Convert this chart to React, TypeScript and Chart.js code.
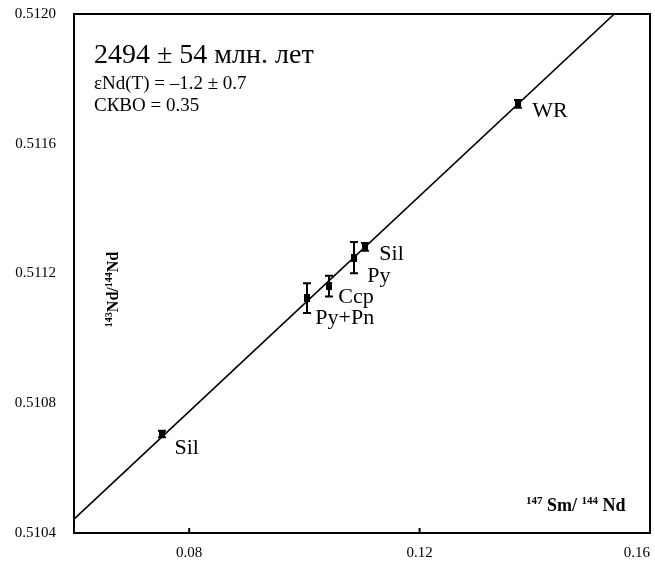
import React, { useEffect, useRef } from "react";
import { Chart, registerables } from "chart.js";

Chart.register(...registerables);

// ---- data ----
const sampleNames = ["Sil", "Py+Pn", "Ccp", "Py", "Sil", "WR"];
const smNd = [0.07535, 0.1005, 0.10432, 0.10866, 0.11057, 0.13712];
const ndNd = [0.510705, 0.511124, 0.511161, 0.511249, 0.511282, 0.511723];
const ndErr = [0.00001, 0.000046, 0.000032, 0.000048, 0.000012, 0.000012];
const isochronX = [0.06, 0.1538];
const isochronY = [0.510443, 0.512];
const xTicks = [0.06, 0.08, 0.12, 0.16];
const yTicks = [0.5104, 0.5108, 0.5112, 0.5116, 0.512];
const ageText = "2494 ± 54 млн. лет";
const epsText = "εNd(T) = –1.2 ± 0.7";
const mswdText = "СКВО = 0.35";

// label offsets in pixels (style only)
const labelOffsets = [
  [12, 20],
  [8, 26],
  [9, 17],
  [13, 24],
  [14, 13],
  [14, 13],
];

const SERIF = "'Liberation Serif', 'Times New Roman', serif";

function drawRich(ctx: CanvasRenderingContext2D, parts: [string, number, number][], x: number, y: number) {
  let cx = x;
  for (const [t, size, dy] of parts) {
    ctx.font = `bold ${size}px ${SERIF}`;
    ctx.fillText(t, cx, y + dy);
    cx += ctx.measureText(t).width;
  }
}
function richWidth(ctx: CanvasRenderingContext2D, parts: [string, number, number][]) {
  let w = 0;
  for (const [t, size] of parts) {
    ctx.font = `bold ${size}px ${SERIF}`;
    w += ctx.measureText(t).width;
  }
  return w;
}

const decorPlugin = {
  id: "decor",
  beforeDatasetsDraw(chart: any) {
    // error bars drawn beneath markers
    const ctx: CanvasRenderingContext2D = chart.ctx;
    const xs = chart.scales.x;
    const ys = chart.scales.y;
    ctx.save();
    ctx.strokeStyle = "#000";
    ctx.lineWidth = 2;
    for (let i = 0; i < smNd.length; i++) {
      const px = Math.round(xs.getPixelForValue(smNd[i]));
      const yt = ys.getPixelForValue(ndNd[i] + ndErr[i]);
      const yb = ys.getPixelForValue(ndNd[i] - ndErr[i]);
      ctx.beginPath();
      ctx.moveTo(px, yt);
      ctx.lineTo(px, yb);
      ctx.moveTo(px - 4, yt);
      ctx.lineTo(px + 4, yt);
      ctx.moveTo(px - 4, yb);
      ctx.lineTo(px + 4, yb);
      ctx.stroke();
    }
    ctx.restore();
  },
  afterDraw(chart: any) {
    const ctx: CanvasRenderingContext2D = chart.ctx;
    const area = chart.chartArea;
    const xs = chart.scales.x;
    const ys = chart.scales.y;
    ctx.save();
    ctx.strokeStyle = "#000";
    ctx.fillStyle = "#000";
    // frame
    ctx.lineWidth = 2;
    ctx.strokeRect(area.left, area.top, area.right - area.left, area.bottom - area.top);
    // inward x ticks
    ctx.beginPath();
    for (const v of xTicks) {
      const px = xs.getPixelForValue(v);
      if (px <= area.left + 2 || px >= area.right - 2) continue;
      ctx.moveTo(px, area.bottom);
      ctx.lineTo(px, area.bottom - 5);
    }
    ctx.stroke();

    // annotation block
    ctx.textAlign = "left";
    ctx.textBaseline = "alphabetic";
    ctx.font = `28px ${SERIF}`;
    ctx.fillText(ageText, area.left + 20, area.top + 49);
    ctx.font = `19px ${SERIF}`;
    ctx.fillText(epsText, area.left + 20, area.top + 75);
    ctx.fillText(mswdText, area.left + 20, area.top + 97);

    // point labels
    ctx.font = `22px ${SERIF}`;
    for (let i = 0; i < sampleNames.length; i++) {
      const px = xs.getPixelForValue(smNd[i]);
      const py = ys.getPixelForValue(ndNd[i]);
      ctx.fillText(sampleNames[i], px + labelOffsets[i][0], py + labelOffsets[i][1]);
    }

    // x axis title inside plot
    const xParts: [string, number, number][] = [
      ["147", 11, -7],
      [" Sm/ ", 18, 0],
      ["144", 11, -7],
      [" Nd", 18, 0],
    ];
    drawRich(ctx, xParts, area.right - 124, area.bottom - 22);

    // y axis title (rotated)
    const yParts: [string, number, number][] = [
      ["143", 10, -6],
      ["Nd/", 16, 0],
      ["144", 10, -6],
      ["Nd", 16, 0],
    ];
    const w = richWidth(ctx, yParts);
    ctx.translate(area.left + 38, (area.top + area.bottom) / 2 + 16);
    ctx.rotate(-Math.PI / 2);
    drawRich(ctx, yParts, -w / 2, 6);
    ctx.restore();
  },
};

export default function App() {
  const ref = useRef<HTMLCanvasElement | null>(null);
  useEffect(() => {
    if (!ref.current) return;
    const marker = document.createElement("canvas");
    marker.width = 6;
    marker.height = 8;
    const mctx = marker.getContext("2d")!;
    mctx.fillStyle = "#000";
    mctx.fillRect(0, 0, 6, 8);

    const chart = new Chart(ref.current, {
      type: "scatter",
      data: {
        datasets: [
          {
            label: "samples",
            data: smNd.map((x, i) => ({ x, y: ndNd[i] })),
            pointStyle: marker,
            pointRadius: 4,
            showLine: false,
            order: 0,
          },
          {
            label: "isochron",
            data: isochronX.map((x, i) => ({ x, y: isochronY[i] })),
            showLine: true,
            borderColor: "#000",
            borderWidth: 1.6,
            pointRadius: 0,
            fill: false,
            order: 1,
          },
        ],
      },
      options: {
        animation: false,
        responsive: false,
        layout: { padding: { top: 14, right: 4, left: 0, bottom: 0 } },
        plugins: { legend: { display: false }, tooltip: { enabled: false } },
        scales: {
          x: {
            type: "linear",
            min: 0.06,
            max: 0.16,
            afterBuildTicks: (s: any) => {
              s.ticks = xTicks.map((v) => ({ value: v }));
            },
            afterFit: (s: any) => {
              s.height = 35;
              s.paddingLeft = 0;
              s.paddingRight = 0;
            },
            grid: { display: false, drawTicks: false },
            border: { display: false },
            ticks: {
              align: "inner",
              padding: 11,
              autoSkip: false,
              maxRotation: 0,
              color: "#000",
              font: { family: SERIF, size: 15 },
              callback: (v: any, i: number) => (i === 0 ? "" : Number(v).toFixed(2)),
            },
          },
          y: {
            type: "linear",
            min: 0.5104,
            max: 0.512,
            afterBuildTicks: (s: any) => {
              s.ticks = yTicks.map((v) => ({ value: v }));
            },
            afterFit: (s: any) => {
              s.width = 74;
              s.paddingTop = 0;
              s.paddingBottom = 0;
            },
            grid: { display: false, drawTicks: false },
            border: { display: false },
            ticks: {
              padding: 18,
              autoSkip: false,
              color: "#000",
              font: { family: SERIF, size: 15 },
              callback: (v: any) => Number(v).toFixed(4),
            },
          },
        },
      } as any,
      plugins: [decorPlugin],
    });
    return () => chart.destroy();
  }, []);
  return (
    <div style={{ position: "absolute", left: 0, top: 0, width: 655, height: 568, background: "#fff" }}>
      <canvas ref={ref} width={655} height={568} style={{ width: 655, height: 568, display: "block" }} />
    </div>
  );
}
